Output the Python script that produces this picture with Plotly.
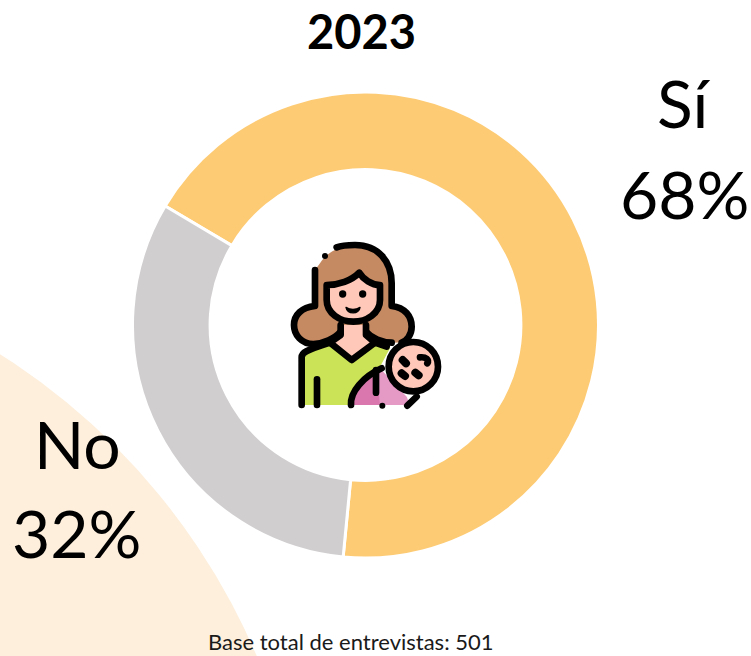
import base64
import plotly.graph_objects as go

W, H = 751, 656
title = "2023"
categories = ["Sí", "No"]
values = [68, 32]
colors = ["#FDCB74", "#D0CECE"]
footnote = "Base total de entrevistas: 501"
start_angle = -59.3


def px(x):
    return x / W


def py(y):
    return 1 - y / H


SK = 'stroke="#000" stroke-width="20" stroke-linecap="round" stroke-linejoin="round"'
icon = f'''<svg xmlns="http://www.w3.org/2000/svg" width="570" height="600" viewBox="0 0 570 600">
<path d="M150,130 C175,90 215,78 255,78 C325,78 365,125 365,190 L365,258 C405,262 425,290 425,320 C425,350 400,372 365,368 L130,372 C95,372 72,345 72,315 C72,285 95,262 135,258 L135,150 Z" fill="#C68A63"/>
<path d="M200,82 C215,76 235,75 255,75 C325,75 365,125 365,190 L365,258 C405,262 425,290 425,320 C425,345 410,362 395,368" fill="none" {SK}/>
<path d="M135,150 L135,258 C95,262 72,285 72,315 C72,345 95,372 130,372 C160,372 195,355 212,335" fill="none" {SK}/>
<path d="M288,335 C305,355 335,368 365,368" fill="none" {SK}/>
<circle cx="165" cy="108" r="9" fill="#000"/>
<path d="M95,555 L95,412 C95,398 105,392 180,368 L245,420 L315,368 L360,385 L330,440 L240,555 Z" fill="#CBE356"/>
<path d="M212,315 L288,315 L288,350 L315,368 L245,420 L180,368 L212,350 Z" fill="#FFC8B8"/>
<path d="M95,555 L95,412 C95,398 105,392 180,368 L245,420 L315,368 L350,380" fill="none" {SK}/>
<path d="M180,368 L212,345 L212,315 M288,315 L288,345 L315,368" fill="none" {SK}/>
<path d="M141,478 L141,555" fill="none" {SK}/>
<path d="M170,195 C205,195 245,182 268,158 C280,178 305,195 330,195 L330,240 C330,280 290,305 250,305 C210,305 170,280 170,240 Z" fill="#FFC8B8" {SK}/>
<circle cx="218" cy="222" r="11" fill="#000"/>
<circle cx="278" cy="222" r="11" fill="#000"/>
<path d="M228,262 C240,270 258,270 270,262 C268,284 232,284 228,262 Z" fill="#000" stroke="#000" stroke-width="4" stroke-linejoin="round"/>
<path d="M245,555 C240,515 280,470 330,445 L410,530 L420,555 Z" fill="#E59AC5"/>
<path d="M250,555 C245,520 280,480 320,455 L330,555 Z" fill="#D977AE"/>
<path d="M243,555 C240,515 280,470 335,445" fill="none" {SK}/>
<path d="M318,450 L318,518" fill="none" {SK}/>
<circle cx="337" cy="557" r="9" fill="#000"/>
<path d="M412,557 L440,530" fill="none" {SK}/>
<circle cx="430" cy="440" r="74" fill="#FFC8B8" {SK}/>
<path d="M450,412 C468,410 478,420 472,430" fill="none" {SK}/>
<path d="M398,420 L408,430 M395,460 L405,468 M436,458 L446,466" fill="none" stroke="#000" stroke-width="24" stroke-linecap="round"/>
</svg>'''
icon_uri = "data:image/svg+xml;base64," + base64.b64encode(icon.encode()).decode()

fig = go.Figure(
    go.Pie(
        labels=categories,
        values=values,
        hole=0.667,
        sort=False,
        direction="clockwise",
        rotation=start_angle,
        marker=dict(colors=colors, line=dict(color="#FFFFFF", width=3)),
        textinfo="none",
        showlegend=False,
        domain=dict(x=[px(132.5), px(598.5)], y=[py(558), py(92)]),
    )
)

# decorative pale arc in the lower left corner
fig.add_shape(
    type="circle", xref="paper", yref="paper", layer="below",
    x0=px(-1022), x1=px(310), y0=py(1583), y1=py(251),
    fillcolor="#FDEFDC", line=dict(width=0),
)

FONT = "Lato, Carlito, Calibri, sans-serif"


def note(x, y, text, size, color="#000"):
    fig.add_annotation(
        x=px(x), y=py(y), xref="paper", yref="paper", text=text, showarrow=False,
        xanchor="center", yanchor="middle", font=dict(family=FONT, size=size, color=color),
    )


note(361, 31, f"<b>{title}</b>", 47)
label_pos = [(684, 103, 684, 193), (77, 443, 76, 532)]
for cat, val, (x1, y1, x2, y2) in zip(categories, values, label_pos):
    note(x1, y1, cat, 66)
    note(x2, y2, f"{val}%", 66)
note(351, 641, footnote, 22, "#1a1a1a")

fig.add_layout_image(
    source=icon_uri, xref="paper", yref="paper", x=px(270), y=py(220),
    sizex=190 / W, sizey=200 / H, xanchor="left", yanchor="top",
    sizing="stretch", layer="above",
)

fig.update_layout(
    width=W, height=H, margin=dict(l=0, r=0, t=0, b=0),
    paper_bgcolor="#FFFFFF", plot_bgcolor="#FFFFFF",
)
fig.write_html(
    "out.html",
    config={"displayModeBar": False},
    post_script="document.body.style.margin='0';document.body.style.overflow='hidden';",
)
